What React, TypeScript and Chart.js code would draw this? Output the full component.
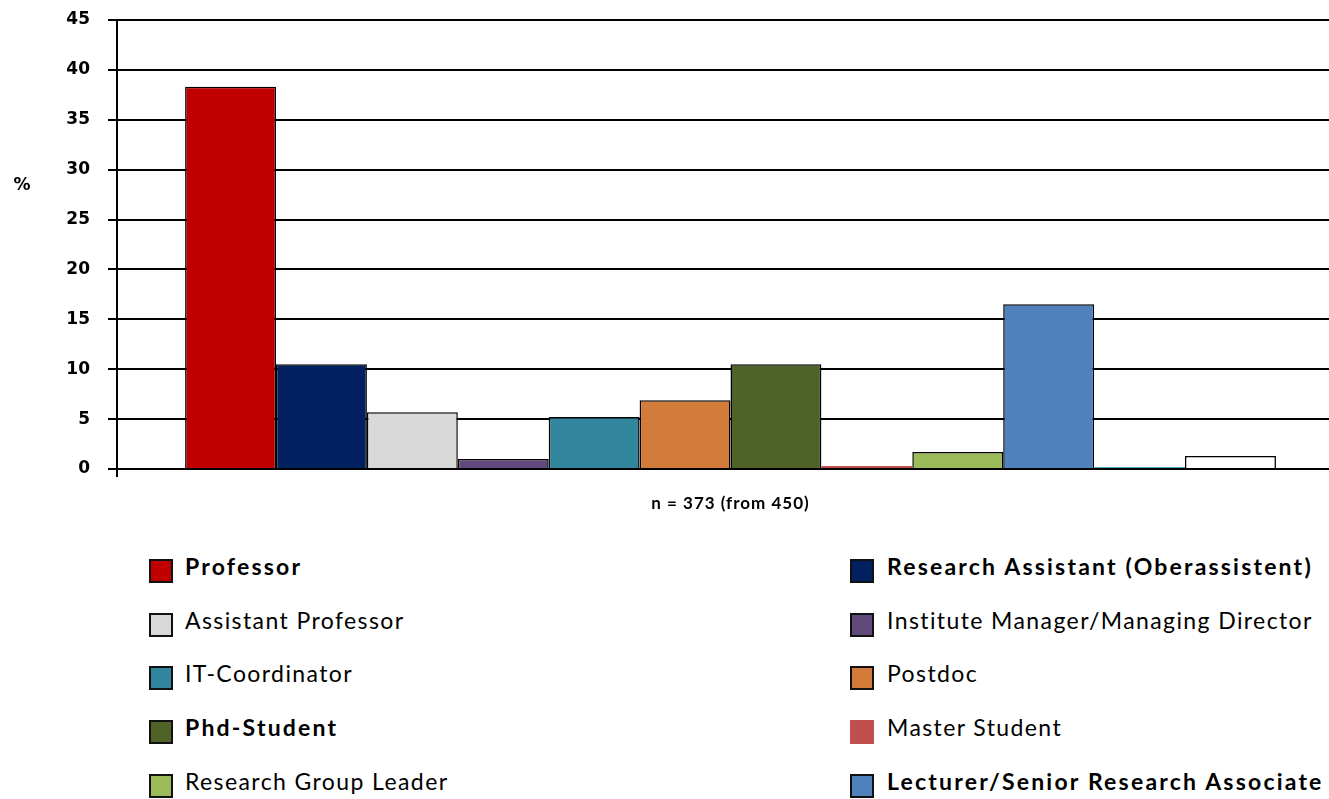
import React, { useEffect, useRef } from "react";
import { Chart, registerables } from "chart.js";

Chart.register(...registerables);

const categories = ["n = 373 (from 450)"];
const seriesLabels = [
  "Professor",
  "Research Assistant (Oberassistent)",
  "Assistant Professor",
  "Institute Manager/Managing Director",
  "IT-Coordinator",
  "Postdoc",
  "Phd-Student",
  "Master Student",
  "Research Group Leader",
  "Lecturer/Senior Research Associate",
  "(not visible)",
  "(not visible) ",
];
const seriesValues = [38.3, 10.5, 5.7, 1.0, 5.2, 6.9, 10.5, 0.3, 1.7, 16.5, 0.2, 1.3];
const seriesColors = [
  "#C00000", "#002060", "#D9D9D9", "#604A7B", "#31859C", "#D27B3A",
  "#4F6228", "#C0504D", "#9BBB59", "#4F81BD", "#4BACC6", "#FFFFFF",
];
const seriesBorders = [1.5, 1.5, 1.5, 1.5, 1.5, 1.5, 1.5, 0, 1.5, 1.5, 0, 1.5];
const boldLegend = [true, true, false, false, false, false, true, false, false, true];
const legendCount = 10;
const yTicks = [0, 5, 10, 15, 20, 25, 30, 35, 40, 45];
const yUnit = "%";
const nNote = categories[0];

const textPlugin = {
  id: "extraText",
  afterDraw(chart: any) {
    const ctx = chart.ctx;
    const area = chart.chartArea;
    ctx.save();
    ctx.fillStyle = "#000";
    ctx.textBaseline = "middle";
    ctx.textAlign = "center";
    ctx.font = "bold 17px 'DejaVu Sans'";
    ctx.fillText(yUnit, 22, 186);
    ctx.font = "bold 17px Lato";
    (ctx as any).letterSpacing = "1px";
    ctx.fillText(nNote, (area.left + area.right) / 2, 504);
    ctx.restore();
  },
};

export default function App() {
  const ref = useRef<HTMLCanvasElement | null>(null);

  useEffect(() => {
    document.body.style.margin = "0";
    const canvas = ref.current!;
    const chart = new Chart(canvas, {
      type: "bar",
      data: {
        labels: [""],
        datasets: seriesLabels.map((label, i) => ({
          label,
          data: [seriesValues[i]],
          backgroundColor: seriesColors[i],
          borderColor: "#000",
          borderWidth: seriesBorders[i],
          categoryPercentage: 0.889,
          barPercentage: 1.0,
        })),
      },
      options: {
        responsive: false,
        animation: false,
        maintainAspectRatio: false,
        layout: { padding: { top: 20, left: 0, right: 0, bottom: 0 } },
        plugins: {
          legend: { display: false },
          tooltip: { enabled: false },
        },
        scales: {
          x: {
            grid: {
              display: true,
              drawOnChartArea: false,
              drawTicks: true,
              tickLength: 8,
              color: "#000",
              lineWidth: 2,
            },
            border: { display: true, color: "#000", width: 2 },
            ticks: { display: true, font: { size: 1 } },
            afterFit: (s: any) => {
              s.height = 51;
              s.paddingLeft = 0;
              s.paddingRight = 0;
            },
          },
          y: {
            min: 0,
            max: 45,
            afterBuildTicks: (s: any) => {
              s.ticks = yTicks.map((v) => ({ value: v }));
            },
            grid: {
              color: "#000",
              lineWidth: 2,
              drawTicks: true,
              tickLength: 9,
            },
            border: { display: true, color: "#000", width: 2 },
            ticks: {
              color: "#000",
              padding: 18,
              font: { family: "'DejaVu Sans'", size: 17, weight: "bold" },
            },
            afterFit: (s: any) => {
              s.width = 117;
              s.paddingTop = 0;
              s.paddingBottom = 0;
            },
          },
        },
      },
      plugins: [textPlugin],
    });
    return () => chart.destroy();
  }, []);

  const rowTop = (i: number) => 559 + i * 53.7;

  return (
    <div style={{ position: "relative", width: 1329, height: 799, overflow: "hidden", background: "#fff" }}>
      <canvas ref={ref} width={1344} height={520} style={{ position: "absolute", left: 0, top: 0, width: 1344, height: 520 }} />
      {seriesLabels.slice(0, legendCount).map((label, i) => {
        const col = i % 2;
        const row = Math.floor(i / 2);
        const boxLeft = col === 0 ? 149 : 850;
        const textLeft = col === 0 ? 185 : 887;
        const top = rowTop(row);
        return (
          <React.Fragment key={label}>
            <div
              style={{
                position: "absolute",
                left: boxLeft,
                top: top,
                width: seriesBorders[i] ? 20 : 24,
                height: seriesBorders[i] ? 20 : 24,
                background: seriesColors[i],
                border: seriesBorders[i] ? "2px solid #111" : "none",
              }}
            />
            <div
              style={{
                position: "absolute",
                left: textLeft,
                top: top - 5,
                fontFamily: "Lato",
                fontSize: 23,
                lineHeight: "24px",
                fontWeight: boldLegend[i] ? 700 : 400,
                letterSpacing: boldLegend[i] ? "2.2px" : "1.4px",
                whiteSpace: "nowrap",
                color: "#000",
              }}
            >
              {label}
            </div>
          </React.Fragment>
        );
      })}
    </div>
  );
}
